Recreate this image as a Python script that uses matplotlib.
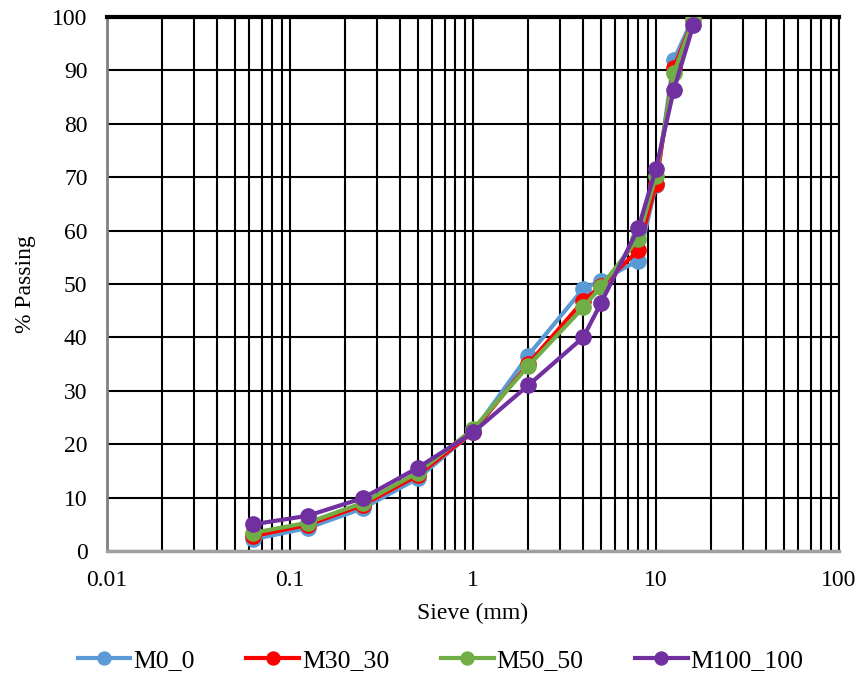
import matplotlib
matplotlib.use('Agg')
import matplotlib.pyplot as plt
from matplotlib.ticker import LogLocator, FixedLocator, NullFormatter
import numpy as np

plt.rcParams['font.family'] = ['Liberation Serif', 'DejaVu Serif']

sieve = [0.063, 0.125, 0.25, 0.5, 1, 2, 4, 5, 8, 10, 12.5, 16]
m0 = [2.2, 4.3, 8.0, 13.6, 22.3, 36.6, 49.1, 50.6, 54.4, 68.5, 91.9, 100.0]
m30 = [2.8, 4.9, 8.6, 14.2, 22.3, 35.0, 46.8, 49.6, 56.3, 68.8, 90.4, 99.6]
m50 = [3.4, 5.3, 9.0, 14.7, 22.8, 34.6, 45.6, 49.5, 58.5, 70.2, 89.5, 99.5]
m100 = [5.0, 6.6, 9.9, 15.6, 22.2, 31.0, 40.0, 46.4, 60.4, 71.6, 86.3, 98.5]

series = [('M0_0', m0, '#5B9BD5'), ('M30_30', m30, '#FF0000'),
          ('M50_50', m50, '#70AD47'), ('M100_100', m100, '#7030A0')]

fig = plt.figure(figsize=(8.66, 6.73), dpi=100)
ax = fig.add_axes([107/866, 1 - 551/673, (839-107)/866, (551-17)/673])

for name, vals, col in series:
    ax.plot(sieve, vals, '-o', color=col, lw=3, markersize=11,
            label=name, zorder=3)

ax.set_xscale('log')
ax.set_xlim(0.01, 100)
ax.set_ylim(0, 100)
ax.set_yticks(np.arange(0, 101, 10))
ax.xaxis.set_major_locator(FixedLocator([0.01, 0.1, 1, 10, 100]))
ax.set_xticklabels(['0.01', '0.1', '1', '10', '100'])
ax.xaxis.set_minor_locator(LogLocator(base=10, subs=np.arange(2, 10)))
ax.xaxis.set_minor_formatter(NullFormatter())
ax.grid(True, which='both', axis='x', color='black', lw=1.5)
ax.grid(True, which='major', axis='y', color='black', lw=1.5)
ax.tick_params(axis='both', which='both', length=0, labelsize=17)
ax.tick_params(axis='y', pad=14)
ax.tick_params(axis='x', pad=14)
for s in ax.spines.values():
    s.set_color('black')
    s.set_linewidth(1.5)
ax.spines['top'].set_linewidth(3)
ax.spines['left'].set_color('#808080')
ax.spines['left'].set_linewidth(2)
ax.spines['bottom'].set_color('#A0A0A0')
ax.spines['bottom'].set_linewidth(2.5)

ax.set_xlabel('Sieve (mm)', fontsize=17, labelpad=8)
ax.set_ylabel('% Passing', fontsize=17, labelpad=12)

ax.legend(loc='upper center', bbox_to_anchor=(0.456, -0.14), ncol=4,
          frameon=False, fontsize=18.5, handlelength=2.05, columnspacing=2.0,
          handletextpad=0.12, markerscale=0.85)

fig.savefig('out.png', dpi=100)
